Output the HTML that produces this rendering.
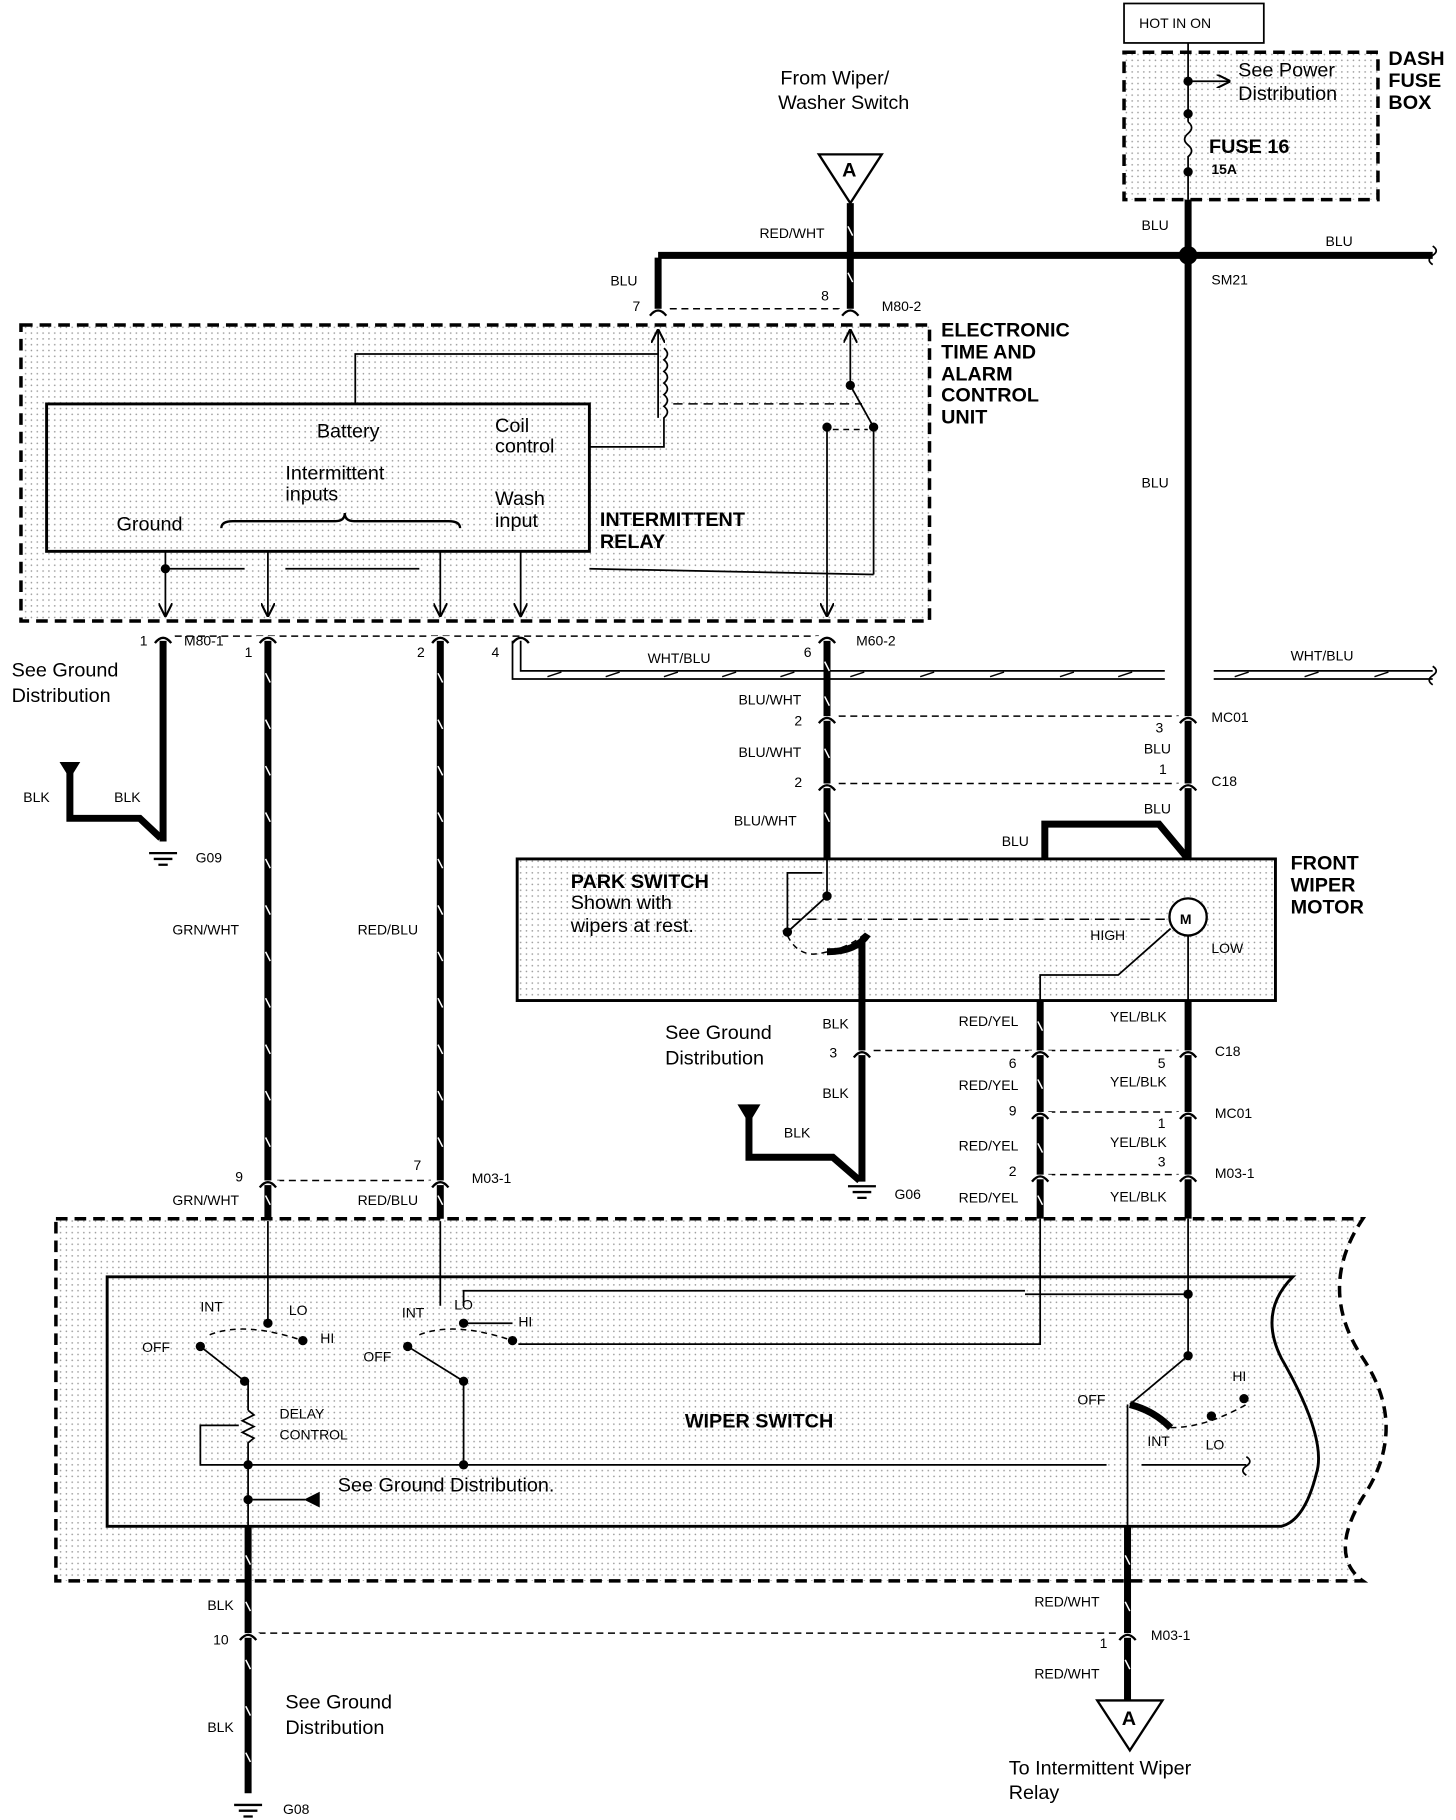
<!DOCTYPE html>
<html><head><meta charset="utf-8"><style>
html,body{margin:0;padding:0;background:#fff}
svg{display:block}
text{font-family:"Liberation Sans",sans-serif;fill:#000}
.s{font-size:12px}
.m{font-size:17px}
.b{font-size:17px;font-weight:bold}
</style></head><body>
<svg width="1456" height="1820" viewBox="0 0 1250 1568" preserveAspectRatio="none" xmlns="http://www.w3.org/2000/svg">
<defs>
<pattern id="dots" width="5" height="5" patternUnits="userSpaceOnUse"><rect width="5" height="5" fill="#fff"/><circle cx="2" cy="2" r="0.7" fill="#999"/></pattern>
<marker id="ar" markerWidth="8" markerHeight="8" refX="7" refY="4" orient="auto"><path d="M0,0 L8,4 L0,8" fill="none" stroke="#000" stroke-width="1.2"/></marker>
</defs>
<g fill="none" stroke="#000">
<rect x="965" y="3" width="120" height="34" stroke-width="1.5"/>
<rect x="965" y="45" width="218" height="127" stroke-width="3" stroke-dasharray="10,6" fill="url(#dots)"/>
<line x1="1020" y1="37" x2="1020" y2="105" stroke-width="1.5"/>
<line x1="1020" y1="70" x2="1055" y2="70" stroke-width="1.5" marker-end="url(#ar)"/>
<path d="M1020,105 q6,5 0,10 q-6,5 0,10 q6,5 0,10 L1020,172" stroke-width="1.5"/>
<line x1="1020" y1="172" x2="1020" y2="740" stroke-width="6"/>
<line x1="565" y1="220" x2="1230" y2="220" stroke-width="6"/>
<path d="M1230,212 q6,4 0,8 q-6,4 0,8" stroke-width="1.5"/>
<polyline points="565,268 565,222" stroke-width="6"/>
<path d="M703,133 L757,133 L730,175 Z" stroke-width="2" fill="#fff"/>
<line x1="730" y1="175" x2="730" y2="268" stroke-width="6"/>
<line x1="575" y1="266" x2="722" y2="266" stroke-width="1.3" stroke-dasharray="6,4"/>
<rect x="18" y="280" width="780" height="255" stroke-width="3" stroke-dasharray="10,6" fill="url(#dots)"/>
<rect x="40" y="348" width="466" height="127" stroke-width="2.5" fill="url(#dots)"/>
<polyline points="305,348 305,305 565,305" stroke-width="1.5"/>
<line x1="565" y1="360" x2="565" y2="285" stroke-width="1.5" marker-end="url(#ar)"/>
<path d="M570,300 q6,5 0,10 q6,5 0,10 q6,5 0,10 q6,5 0,10 q6,5 0,10 q6,5 0,10 L570,385 L506,385" stroke-width="1.5"/>
<line x1="578" y1="348" x2="740" y2="348" stroke-width="1.3" stroke-dasharray="8,5"/>
<line x1="730" y1="335" x2="730" y2="285" stroke-width="1.5" marker-end="url(#ar)"/>
<line x1="730" y1="332" x2="750" y2="368" stroke-width="1.5"/>
<polyline points="750,368 750,495" stroke-width="1.5"/>
<polyline points="506,490 750,495" stroke-width="1.5"/>
<line x1="710" y1="368" x2="710" y2="530" stroke-width="1.5" marker-end="url(#ar)"/>
<line x1="715" y1="370" x2="745" y2="370" stroke-width="1.3" stroke-dasharray="5,4"/>
<path d="M190,455 q0,-6 10,-6 L288,449 q8,0 8,-7 q0,7 8,7 L385,449 q10,0 10,6" stroke-width="2"/>
<line x1="142" y1="475" x2="142" y2="530" stroke-width="1.5" marker-end="url(#ar)"/>
<line x1="142" y1="490" x2="210" y2="490" stroke-width="1.5"/>
<line x1="230" y1="475" x2="230" y2="530" stroke-width="1.5" marker-end="url(#ar)"/>
<line x1="245" y1="490" x2="360" y2="490" stroke-width="1.5"/>
<line x1="378" y1="475" x2="378" y2="530" stroke-width="1.5" marker-end="url(#ar)"/>
<line x1="447" y1="475" x2="447" y2="530" stroke-width="1.5" marker-end="url(#ar)"/>
<line x1="150" y1="548" x2="703" y2="548" stroke-width="1.3" stroke-dasharray="6,4"/>
<line x1="140" y1="552" x2="140" y2="725" stroke-width="6"/>
<polyline points="60,665 60,705 120,705 138,722" stroke-width="6"/>
<path d="M52,657 L68,657 L60,670 Z" fill="#000"/>
<path d="M128,735 h24 M132,740 h16 M136,745 h8" stroke-width="2"/>
<line x1="230" y1="552" x2="230" y2="1052" stroke-width="6"/>
<line x1="378" y1="552" x2="378" y2="1052" stroke-width="6"/>
<polyline points="440,552 440,585 1000,585" stroke-width="1.5"/>
<polyline points="447,552 447,578 1000,578" stroke-width="1.5"/>
<line x1="1042" y1="578" x2="1230" y2="578" stroke-width="1.5"/>
<line x1="1042" y1="585" x2="1230" y2="585" stroke-width="1.5"/>
<path d="M1230,574 q6,4 0,8 q-6,4 0,8" stroke-width="1.5"/>
<line x1="710" y1="552" x2="710" y2="740" stroke-width="6"/>
<line x1="720" y1="617" x2="1012" y2="617" stroke-width="1.3" stroke-dasharray="6,4"/>
<line x1="720" y1="675" x2="1012" y2="675" stroke-width="1.3" stroke-dasharray="6,4"/>
<polyline points="897,740 897,710 995,710 1020,740" stroke-width="6"/>
<rect x="444" y="740" width="651" height="122" stroke-width="2.5" fill="url(#dots)"/>
<polyline points="710,740 710,772 676,803" stroke-width="1.5"/>
<polyline points="676,803 676,752 706,752" stroke-width="1.5"/>
<line x1="680" y1="792" x2="1003" y2="792" stroke-width="1.3" stroke-dasharray="8,5"/>
<path d="M676,806 q10,20 30,15 q25,-5 38,-18" stroke-width="1.3" stroke-dasharray="5,4"/>
<path d="M710,820 q25,0 35,-15" stroke-width="6"/>
<line x1="740" y1="810" x2="740" y2="1018" stroke-width="6"/>
<circle cx="1020" cy="790" r="16" stroke-width="2" fill="#fff"/>
<polyline points="1005,800 960,840 893,840 893,1050" stroke-width="1.5"/>
<line x1="1020" y1="806" x2="1020" y2="1050" stroke-width="1.5"/>
<line x1="893" y1="862" x2="893" y2="1050" stroke-width="6"/>
<line x1="1020" y1="862" x2="1020" y2="1050" stroke-width="6"/>
<line x1="750" y1="905" x2="1012" y2="905" stroke-width="1.3" stroke-dasharray="6,4"/>
<line x1="900" y1="958" x2="1012" y2="958" stroke-width="1.3" stroke-dasharray="6,4"/>
<line x1="900" y1="1012" x2="1012" y2="1012" stroke-width="1.3" stroke-dasharray="6,4"/>
<line x1="238" y1="1017" x2="370" y2="1017" stroke-width="1.3" stroke-dasharray="6,4"/>
<polyline points="643,960 643,997 715,997 738,1017" stroke-width="6"/>
<path d="M634,952 L652,952 L643,967 Z" fill="#000"/>
<path d="M728,1022 h24 M732,1027 h16 M736,1032 h8" stroke-width="2"/>
<path d="M48,1050 L1170,1050 q-40,60 0,120 q40,60 0,120 q-30,50 0,72 L48,1362 Z" stroke-width="3" stroke-dasharray="10,6" fill="url(#dots)"/>
<path d="M92,1100 L1110,1100 q-30,30 -10,70 q40,70 30,100 q-10,40 -30,45 L92,1315 Z" stroke-width="2.5" fill="url(#dots)"/>
<line x1="230" y1="1052" x2="230" y2="1140" stroke-width="1.5"/>
<line x1="378" y1="1052" x2="378" y2="1125" stroke-width="1.5"/>
<polyline points="398,1125 398,1112 880,1112" stroke-width="1.5"/>
<polyline points="445,1158 893,1158 893,1050" stroke-width="1.5"/>
<line x1="400" y1="1140" x2="440" y2="1140" stroke-width="1.5"/>
<line x1="172" y1="1160" x2="210" y2="1190" stroke-width="1.5"/>
<line x1="350" y1="1160" x2="398" y2="1190" stroke-width="1.5"/>
<path d="M180,1150 q30,-12 80,5" stroke-width="1.3" stroke-dasharray="5,4"/>
<path d="M360,1150 q30,-12 80,5" stroke-width="1.3" stroke-dasharray="5,4"/>
<polyline points="213,1190 213,1215" stroke-width="1.5"/>
<path d="M213,1215 l5,4 l-10,5 l10,5 l-10,5 l10,5 l-5,4 L213,1315" stroke-width="1.5"/>
<polyline points="205,1228 172,1228 172,1262 213,1262" stroke-width="1.5"/>
<line x1="398" y1="1190" x2="398" y2="1262" stroke-width="1.5"/>
<line x1="213" y1="1262" x2="950" y2="1262" stroke-width="1.5"/>
<line x1="980" y1="1262" x2="1070" y2="1262" stroke-width="1.5"/>
<line x1="213" y1="1292" x2="262" y2="1292" stroke-width="1.5"/>
<path d="M274,1286 L262,1292 L274,1298 Z" fill="#000"/>
<line x1="880" y1="1115" x2="1020" y2="1115" stroke-width="1.5"/>
<line x1="1020" y1="1050" x2="1020" y2="1168" stroke-width="1.5"/>
<line x1="1020" y1="1168" x2="970" y2="1210" stroke-width="1.5"/>
<path d="M970,1210 q20,5 35,20" stroke-width="6"/>
<path d="M1005,1230 q30,0 65,-20" stroke-width="1.3" stroke-dasharray="5,4"/>
<line x1="968" y1="1210" x2="968" y2="1315" stroke-width="1.5"/>
<path d="M1070,1255 q6,4 0,8 q-6,4 0,8" stroke-width="1.5"/>
<line x1="213" y1="1315" x2="213" y2="1545" stroke-width="6"/>
<line x1="968" y1="1315" x2="968" y2="1465" stroke-width="6"/>
<line x1="222" y1="1407" x2="960" y2="1407" stroke-width="1.3" stroke-dasharray="6,4"/>
<path d="M942,1465 L998,1465 L970,1508 Z" stroke-width="2" fill="#fff"/>
<path d="M201,1555 h24 M205,1560 h16 M209,1565 h8" stroke-width="2"/>
</g>
<g stroke="#fff" stroke-width="1.3">
<path d="M228,580 l4,8 M228,620 l4,8 M228,660 l4,8 M228,700 l4,8 M228,740 l4,8 M228,780 l4,8 M228,820 l4,8 M228,860 l4,8 M228,900 l4,8 M228,940 l4,8 M228,980 l4,8 M228,1030 l4,8"/>
<path d="M376,580 l4,8 M376,620 l4,8 M376,660 l4,8 M376,700 l4,8 M376,740 l4,8 M376,780 l4,8 M376,820 l4,8 M376,860 l4,8 M376,900 l4,8 M376,940 l4,8 M376,980 l4,8 M376,1030 l4,8"/>
<path d="M728,195 l4,8 M728,235 l4,8 M708,570 l4,8 M708,600 l4,8 M708,645 l4,8 M708,700 l4,8 M891,880 l4,8 M891,930 l4,8 M891,985 l4,8 M891,1030 l4,8 M211,1340 l4,8 M211,1380 l4,8 M211,1430 l4,8 M211,1470 l4,8 M211,1510 l4,8 M966,1340 l4,8 M966,1380 l4,8 M966,1430 l4,8"/>
</g>
<g stroke="#000" stroke-width="1.2">
<path d="M470,583 l12,-4 M520,583 l12,-4 M570,583 l12,-4 M620,583 l12,-4 M670,583 l12,-4 M730,583 l12,-4 M790,583 l12,-4 M850,583 l12,-4 M910,583 l12,-4 M960,583 l12,-4 M1060,583 l12,-4 M1120,583 l12,-4 M1180,583 l12,-4"/>
</g>
<!-- connector gaps and chevrons -->
<g fill="#fff" stroke="none">
<rect x="555" y="266" width="20" height="4"/><rect x="720" y="266" width="20" height="4"/>
<rect x="130" y="548" width="20" height="4"/><rect x="220" y="548" width="20" height="4"/><rect x="368" y="548" width="20" height="4"/><rect x="700" y="548" width="20" height="4"/>
<rect x="700" y="617" width="20" height="4"/><rect x="700" y="675" width="20" height="4"/><rect x="1010" y="617" width="20" height="4"/><rect x="1010" y="675" width="20" height="4"/>
<rect x="730" y="905" width="20" height="4"/><rect x="883" y="905" width="20" height="4"/><rect x="1010" y="905" width="20" height="4"/>
<rect x="883" y="958" width="20" height="4"/><rect x="1010" y="958" width="20" height="4"/><rect x="883" y="1012" width="20" height="4"/><rect x="1010" y="1012" width="20" height="4"/>
<rect x="220" y="1017" width="20" height="4"/><rect x="368" y="1017" width="20" height="4"/><rect x="203" y="1407" width="20" height="4"/><rect x="958" y="1407" width="20" height="4"/>
</g>
<g fill="none" stroke="#000" stroke-width="2">
<path d="M558,272 q7,-9 14,0 M723,272 q7,-9 14,0 M133,554 q7,-9 14,0 M223,554 q7,-9 14,0 M371,554 q7,-9 14,0 M440,554 q7,-9 14,0 M703,554 q7,-9 14,0 M703,623 q7,-9 14,0 M703,681 q7,-9 14,0 M1013,623 q7,-9 14,0 M1013,681 q7,-9 14,0 M733,911 q7,-9 14,0 M886,911 q7,-9 14,0 M1013,911 q7,-9 14,0 M886,964 q7,-9 14,0 M1013,964 q7,-9 14,0 M886,1018 q7,-9 14,0 M1013,1018 q7,-9 14,0 M223,1023 q7,-9 14,0 M371,1023 q7,-9 14,0 M206,1413 q7,-9 14,0 M961,1413 q7,-9 14,0"/>
</g>
<g fill="#000">
<circle cx="1020" cy="70" r="4"/><circle cx="1020" cy="98" r="4"/><circle cx="1020" cy="148" r="4"/>
<circle cx="1020" cy="220" r="8"/><circle cx="730" cy="332" r="4"/><circle cx="750" cy="368" r="4"/><circle cx="710" cy="368" r="4"/>
<circle cx="142" cy="490" r="4"/><circle cx="710" cy="772" r="4"/><circle cx="676" cy="803" r="4"/>
<circle cx="230" cy="1140" r="4"/><circle cx="260" cy="1155" r="4"/><circle cx="172" cy="1160" r="4"/><circle cx="210" cy="1190" r="4"/>
<circle cx="398" cy="1140" r="4"/><circle cx="440" cy="1155" r="4"/><circle cx="350" cy="1160" r="4"/><circle cx="398" cy="1190" r="4"/>
<circle cx="213" cy="1262" r="4"/><circle cx="213" cy="1292" r="4"/><circle cx="398" cy="1262" r="4"/>
<circle cx="1020" cy="1115" r="4"/><circle cx="1020" cy="1168" r="4"/><circle cx="1040" cy="1220" r="4"/><circle cx="1068" cy="1205" r="4"/>
</g>
<text x="978" y="24" class="s">HOT IN ON</text>
<text x="1063" y="66" class="m">See Power</text><text x="1063" y="86" class="m">Distribution</text>
<text x="1038" y="132" class="b">FUSE 16</text><text x="1040" y="150" class="s" font-weight="bold">15A</text>
<text x="1192" y="56" class="b">DASH</text><text x="1192" y="75" class="b">FUSE</text><text x="1192" y="94" class="b">BOX</text>
<text x="670" y="73" class="m">From Wiper/</text><text x="668" y="94" class="m">Washer Switch</text>
<text x="723" y="152" class="b">A</text>
<text x="652" y="205" class="s">RED/WHT</text><text x="524" y="246" class="s">BLU</text>
<text x="980" y="198" class="s">BLU</text><text x="1138" y="212" class="s">BLU</text><text x="1040" y="245" class="s">SM21</text>
<text x="543" y="268" class="s">7</text><text x="705" y="259" class="s">8</text><text x="757" y="268" class="s">M80-2</text>
<text x="808" y="290" class="b">ELECTRONIC</text><text x="808" y="309" class="b">TIME AND</text><text x="808" y="328" class="b">ALARM</text><text x="808" y="346" class="b">CONTROL</text><text x="808" y="365" class="b">UNIT</text>
<text x="272" y="377" class="m">Battery</text><text x="425" y="372" class="m">Coil</text><text x="425" y="390" class="m">control</text>
<text x="245" y="413" class="m">Intermittent</text><text x="245" y="431" class="m">inputs</text>
<text x="425" y="435" class="m">Wash</text><text x="425" y="454" class="m">input</text>
<text x="100" y="457" class="m">Ground</text>
<text x="515" y="453" class="b">INTERMITTENT</text><text x="515" y="472" class="b">RELAY</text>
<text x="980" y="420" class="s">BLU</text>
<text x="120" y="556" class="s">1</text><text x="158" y="556" class="s">M80-1</text><text x="210" y="566" class="s">1</text><text x="358" y="566" class="s">2</text><text x="422" y="566" class="s">4</text><text x="690" y="566" class="s">6</text><text x="735" y="556" class="s">M60-2</text>
<text x="10" y="583" class="m">See Ground</text><text x="10" y="605" class="m">Distribution</text>
<text x="556" y="571" class="s">WHT/BLU</text><text x="1108" y="569" class="s">WHT/BLU</text>
<text x="634" y="607" class="s">BLU/WHT</text><text x="682" y="625" class="s">2</text><text x="634" y="652" class="s">BLU/WHT</text><text x="682" y="678" class="s">2</text><text x="630" y="711" class="s">BLU/WHT</text>
<text x="992" y="631" class="s">3</text><text x="1040" y="622" class="s">MC01</text><text x="982" y="649" class="s">BLU</text><text x="995" y="667" class="s">1</text><text x="1040" y="677" class="s">C18</text><text x="982" y="701" class="s">BLU</text><text x="860" y="729" class="s">BLU</text>
<text x="20" y="691" class="s">BLK</text><text x="98" y="691" class="s">BLK</text><text x="168" y="743" class="s">G09</text>
<text x="1108" y="749" class="b">FRONT</text><text x="1108" y="768" class="b">WIPER</text><text x="1108" y="787" class="b">MOTOR</text>
<text x="490" y="765" class="b">PARK SWITCH</text><text x="490" y="783" class="m">Shown with</text><text x="490" y="803" class="m">wipers at rest.</text>
<text x="1013" y="796" class="s" font-weight="bold">M</text><text x="936" y="810" class="s">HIGH</text><text x="1040" y="821" class="s">LOW</text>
<text x="148" y="805" class="s">GRN/WHT</text><text x="307" y="805" class="s">RED/BLU</text>
<text x="571" y="895" class="m">See Ground</text><text x="571" y="917" class="m">Distribution</text>
<text x="706" y="886" class="s">BLK</text><text x="712" y="911" class="s">3</text><text x="706" y="946" class="s">BLK</text><text x="673" y="980" class="s">BLK</text><text x="768" y="1033" class="s">G06</text>
<text x="823" y="884" class="s">RED/YEL</text><text x="866" y="920" class="s">6</text><text x="823" y="939" class="s">RED/YEL</text><text x="866" y="961" class="s">9</text><text x="823" y="991" class="s">RED/YEL</text><text x="866" y="1013" class="s">2</text><text x="823" y="1036" class="s">RED/YEL</text>
<text x="953" y="880" class="s">YEL/BLK</text><text x="994" y="920" class="s">5</text><text x="953" y="936" class="s">YEL/BLK</text><text x="994" y="972" class="s">1</text><text x="953" y="988" class="s">YEL/BLK</text><text x="994" y="1005" class="s">3</text><text x="953" y="1035" class="s">YEL/BLK</text>
<text x="1043" y="910" class="s">C18</text><text x="1043" y="963" class="s">MC01</text><text x="1043" y="1015" class="s">M03-1</text>
<text x="202" y="1018" class="s">9</text><text x="355" y="1008" class="s">7</text><text x="405" y="1019" class="s">M03-1</text>
<text x="148" y="1038" class="s">GRN/WHT</text><text x="307" y="1038" class="s">RED/BLU</text>
<text x="172" y="1130" class="s">INT</text><text x="248" y="1133" class="s">LO</text><text x="275" y="1157" class="s">HI</text><text x="122" y="1165" class="s">OFF</text>
<text x="345" y="1135" class="s">INT</text><text x="390" y="1128" class="s">LO</text><text x="445" y="1143" class="s">HI</text><text x="312" y="1173" class="s">OFF</text>
<text x="240" y="1222" class="s">DELAY</text><text x="240" y="1240" class="s">CONTROL</text>
<text x="588" y="1230" class="b">WIPER SWITCH</text>
<text x="290" y="1285" class="m">See Ground Distribution.</text>
<text x="925" y="1210" class="s">OFF</text><text x="1058" y="1190" class="s">HI</text><text x="985" y="1246" class="s">INT</text><text x="1035" y="1249" class="s">LO</text>
<text x="178" y="1387" class="s">BLK</text><text x="183" y="1417" class="s">10</text><text x="178" y="1492" class="s">BLK</text>
<text x="245" y="1472" class="m">See Ground</text><text x="245" y="1494" class="m">Distribution</text><text x="243" y="1563" class="s">G08</text>
<text x="888" y="1384" class="s">RED/WHT</text><text x="944" y="1420" class="s">1</text><text x="988" y="1413" class="s">M03-1</text><text x="888" y="1446" class="s">RED/WHT</text>
<text x="963" y="1486" class="b">A</text>
<text x="866" y="1529" class="m">To Intermittent Wiper</text><text x="866" y="1550" class="m">Relay</text>
</svg>
</body></html>
